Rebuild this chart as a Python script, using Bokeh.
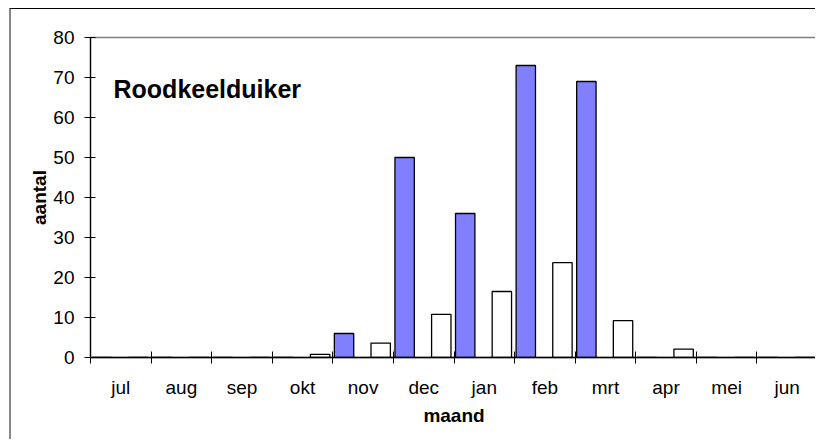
import numpy as np
from bokeh.plotting import figure
from bokeh.models import FixedTicker, Range1d, Label, ColumnDataSource
from bokeh.embed import file_html
from bokeh.resources import INLINE

# ---- data ----
months = ["jul", "aug", "sep", "okt", "nov", "dec", "jan", "feb", "mrt", "apr", "mei", "jun"]
season_counts = [0, 0, 0, 0, 6, 50, 36, 73, 69, 0, 0, 0]          # blue bars
mean_counts = [0, 0, 0, 0.8, 3.6, 10.8, 16.5, 23.7, 9.2, 2.1, 0, 0]  # white bars
y_tick_values = [0, 10, 20, 30, 40, 50, 60, 70, 80]
title_text = "Roodkeelduiker"
x_label = "maand"
y_label = "aantal"

FONT = "Liberation Sans"

idx = np.arange(len(months))
src = ColumnDataSource(dict(
    xb=idx + 0.185,
    xw=idx + 0.79,
    blue=season_counts,
    white=mean_counts,
))

p = figure(width=806, height=431, output_backend="svg", toolbar_location=None,
           x_range=Range1d(0, len(months)), y_range=Range1d(0, 80),
           min_border_left=79, min_border_right=0, min_border_top=28, min_border_bottom=83)

p.vbar(x="xb", top="blue", width=0.32, source=src,
       fill_color="#8080FF", line_color="black", line_width=1.3)
p.vbar(x="xw", top="white", width=0.32, source=src,
       fill_color="white", line_color="black", line_width=1.3)

p.xgrid.visible = False
p.ygrid.visible = False
p.outline_line_color = "#808080"
p.outline_line_width = 1.5
p.background_fill_color = "white"
p.border_fill_color = "white"

# x axis: labels centred in categories, tick marks on boundaries
xa = p.xaxis[0]
xa.ticker = FixedTicker(ticks=[float(i) + 0.5 for i in idx],
                        minor_ticks=[float(i) for i in range(len(months) + 1)])
xa.major_label_overrides = {float(i) + 0.5: m for i, m in zip(idx, months)}
xa.major_tick_line_color = None
xa.major_tick_out = 6
xa.major_tick_in = 0
xa.minor_tick_line_color = "black"
xa.minor_tick_in = 6
xa.minor_tick_out = 6
xa.axis_line_color = "black"
xa.axis_line_width = 1.5
xa.major_label_text_font = FONT
xa.major_label_text_font_size = "19px"
xa.major_label_text_color = "black"
xa.major_label_standoff = 13
xa.axis_label = x_label
xa.axis_label_text_font = FONT
xa.axis_label_text_font_style = "bold"
xa.axis_label_text_font_size = "19px"
xa.axis_label_text_color = "black"
xa.axis_label_standoff = 4

ya = p.yaxis[0]
ya.ticker = FixedTicker(ticks=y_tick_values, minor_ticks=[])
ya.major_tick_in = 5
ya.major_tick_out = 6
ya.major_tick_line_color = "black"
ya.minor_tick_line_color = None
ya.axis_line_color = "black"
ya.axis_line_width = 1.2
ya.major_label_text_font = FONT
ya.major_label_text_font_size = "19px"
ya.major_label_text_color = "black"
ya.major_label_standoff = 10
ya.axis_label = y_label
ya.axis_label_text_font = FONT
ya.axis_label_text_font_style = "bold"
ya.axis_label_text_font_size = "19px"
ya.axis_label_text_color = "black"
ya.axis_label_standoff = 0

p.add_layout(Label(x=0.38, y=67.2, text=title_text, text_font=FONT,
                   text_font_style="bold", text_font_size="25px",
                   text_color="black", text_baseline="alphabetic"))

p.styles = {"margin-left": "9px", "margin-top": "8px",
            "border-top": "1px solid black", "border-left": "2px solid #888888"}

open("out.html", "w").write(file_html(p, INLINE))
